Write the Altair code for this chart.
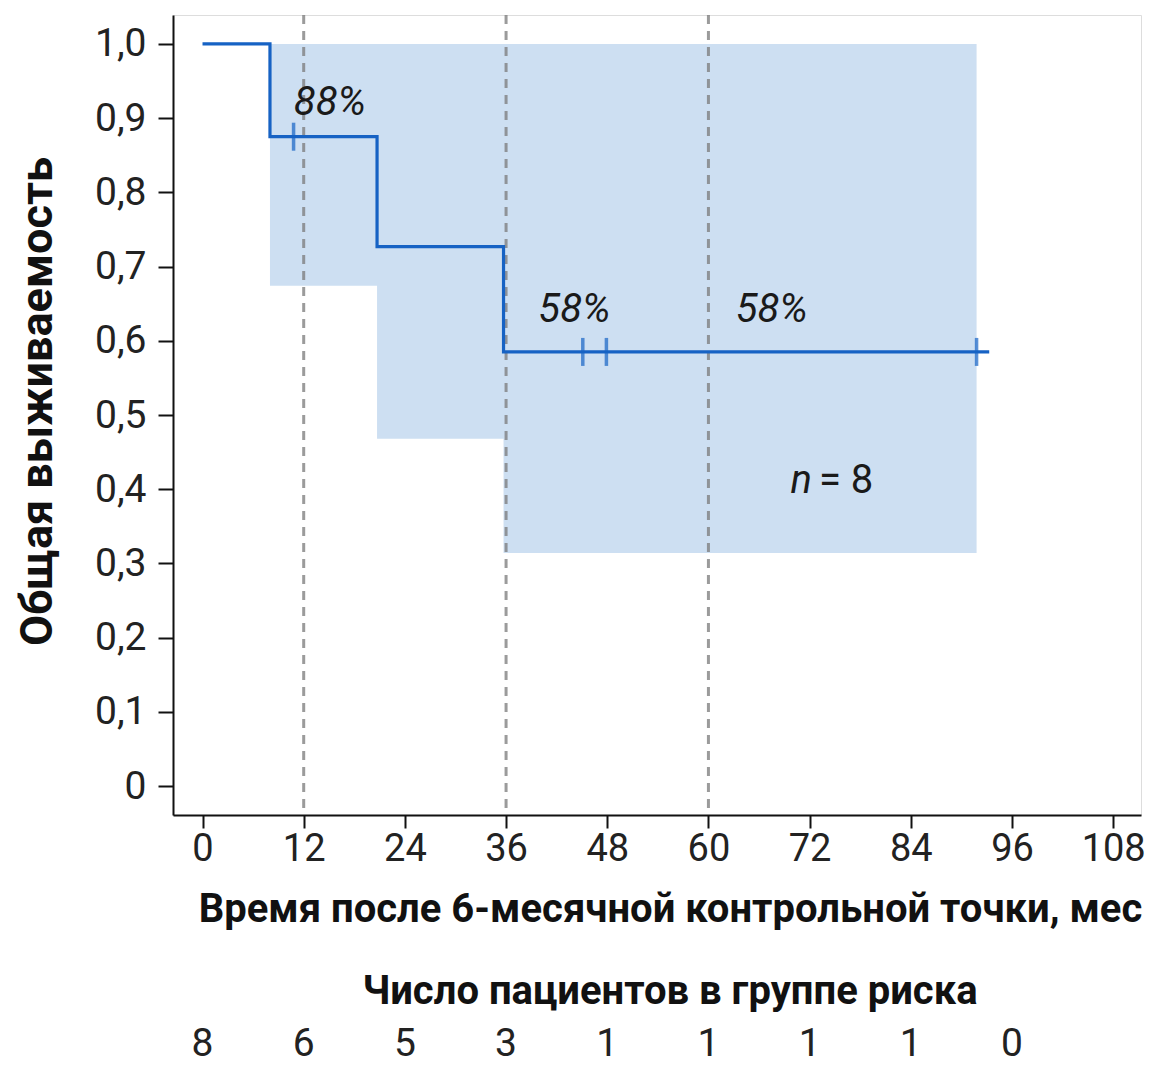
import altair as alt
import pandas as pd

# Kaplan-Meier curve (step-after)
km_time = [0, 8.0, 20.7, 35.7, 93.3]
km_surv = [1.0, 0.875, 0.727, 0.585, 0.585]

# confidence band (step-after)
ci_time = [8.0, 20.7, 35.7, 91.8]
ci_low = [0.674, 0.468, 0.314, 0.314]
ci_high = [1.0, 1.0, 1.0, 1.0]

# censored observations
cens_time = [10.8, 45.1, 47.9, 91.8]
cens_surv = [0.875, 0.585, 0.585, 0.585]

# landmark lines
landmarks = [12, 36, 60]

# annotations
ann_text = ["88%", "58%", "58%"]
ann_x = [15.1, 44.1, 67.5]
ann_y = [0.921, 0.6415, 0.6415]

# risk table
risk_time = [0, 12, 24, 36, 48, 60, 72, 84, 96]
risk_n = [8, 6, 5, 3, 1, 1, 1, 1, 0]

x_ticks = [0, 12, 24, 36, 48, 60, 72, 84, 96, 108]
y_ticks = [0, 0.1, 0.2, 0.3, 0.4, 0.5, 0.6, 0.7, 0.8, 0.9, 1.0]

FONT = "Roboto"
LINE = "#1662c4"
BAND = "#cddff2"

km_df = pd.DataFrame({"t": km_time, "s": km_surv})
ci_df = pd.DataFrame({"t": ci_time, "lo": ci_low, "hi": ci_high})
cens_df = pd.DataFrame({"t": cens_time, "s": cens_surv})
lm_df = pd.DataFrame({"t": landmarks})
ann_df = pd.DataFrame({"label": ann_text, "t": ann_x, "s": ann_y})
risk_df = pd.DataFrame({"t": risk_time, "n": [str(v) for v in risk_n]})
n_df = pd.DataFrame({"t": [71.0], "s": [0.411], "label": ["n"]})
n2_df = pd.DataFrame({"t": [73.1], "s": [0.411], "label": ["= 8"]})

xscale = alt.Scale(domain=[-3.5, 111.3], nice=False, zero=False)
yscale = alt.Scale(domain=[-0.039, 1.039], nice=False, zero=False)

LEFT = 165
W = 968

x_axis = alt.Axis(
    values=x_ticks,
    title="Время после 6-месячной контрольной точки, мес",
    titleFont=FONT, titleFontSize=40, titleFontWeight="bold", titleColor="#111",
    titleX=497, titleY=94, titleAlign="center", titleBaseline="middle",
    labelFont=FONT, labelFontSize=38, labelColor="#222", labelPadding=2,
    tickSize=13, tickWidth=2, tickColor="#111", domainColor="#111", domainWidth=2,
    grid=False,
)
y_axis = alt.Axis(
    values=y_ticks,
    labelExpr="datum.value == 0 ? '0' : replace(format(datum.value, '.1f'), '.', ',')",
    title="Общая выживаемость",
    titleFont=FONT, titleFontSize=45, titleFontWeight="bold", titleColor="#111",
    titleX=-136, titleY=386, titleAlign="center", titleBaseline="middle", titleAngle=270,
    labelFont=FONT, labelFontSize=39, labelColor="#222", labelPadding=12,
    tickSize=15, tickWidth=2, tickColor="#111", domainColor="#111", domainWidth=2,
    grid=False,
)

band = alt.Chart(ci_df).mark_area(interpolate="step-after", color=BAND, opacity=1).encode(
    x=alt.X("t:Q", scale=xscale, axis=x_axis),
    y=alt.Y("lo:Q", scale=yscale, axis=y_axis),
    y2="hi:Q",
)

dash = alt.Chart(lm_df).mark_rule(color="#7a7a7a", opacity=0.75, strokeWidth=3, strokeDash=[9, 7]).encode(
    x=alt.X("t:Q", scale=xscale)
)

line = alt.Chart(km_df).mark_line(interpolate="step-after", color=LINE, strokeWidth=3.2).encode(
    x=alt.X("t:Q", scale=xscale),
    y=alt.Y("s:Q", scale=yscale),
)

cens = alt.Chart(cens_df).mark_tick(orient="vertical", color=LINE, size=28, thickness=3.5).encode(
    x=alt.X("t:Q", scale=xscale),
    y=alt.Y("s:Q", scale=yscale),
)

ann = alt.Chart(ann_df).mark_text(font=FONT, fontSize=40, fontStyle="italic", color="#1a1a1a",
                                  align="center", baseline="middle").encode(
    x=alt.X("t:Q", scale=xscale),
    y=alt.Y("s:Q", scale=yscale),
    text="label:N",
)

n_txt = alt.Chart(n_df).mark_text(font=FONT, fontSize=40, fontStyle="italic", color="#1a1a1a",
                                  align="center", baseline="middle").encode(
    x=alt.X("t:Q", scale=xscale), y=alt.Y("s:Q", scale=yscale), text="label:N")
n2_txt = alt.Chart(n2_df).mark_text(font=FONT, fontSize=40, color="#1a1a1a",
                                    align="left", baseline="middle").encode(
    x=alt.X("t:Q", scale=xscale), y=alt.Y("s:Q", scale=yscale), text="label:N")

risk_title = alt.Chart(pd.DataFrame({"label": ["Число пациентов в группе риска"]})).mark_text(
    font=FONT, fontSize=40, fontWeight="bold", color="#111", align="center", baseline="middle"
).encode(x=alt.value(497), y=alt.value(977), text="label:N")

risk = alt.Chart(risk_df).mark_text(font=FONT, fontSize=39, color="#222",
                                    align="center", baseline="middle").encode(
    x=alt.X("t:Q", scale=xscale),
    y=alt.value(1029),
    text="n:N",
)

chart = alt.layer(band, dash, line, cens, ann, n_txt, n2_txt, risk_title, risk).properties(
    width=W, height=800,
    autosize=alt.AutoSizeParams(type="none"),
    padding={"left": LEFT, "top": 7, "right": 5, "bottom": 252},
).configure_view(stroke="#808080", strokeWidth=2.5).configure(background="white")

chart.save("out.html", embed_options={"renderer": "svg", "actions": False})
